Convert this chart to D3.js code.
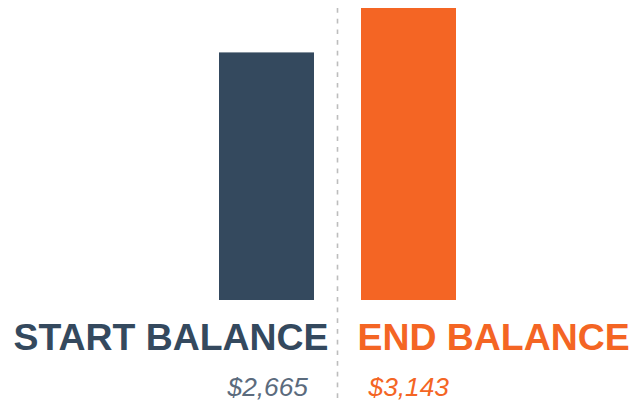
<!DOCTYPE html>
<html><head><meta charset="utf-8">
<script src="https://cdn.jsdelivr.net/npm/d3@7"></script>
<style>html,body{margin:0;padding:0;background:#fff;overflow:hidden}</style>
</head><body>
<svg id="chart" width="631" height="404"></svg>
<script>
const categories = ["START BALANCE", "END BALANCE"];
const values = [2665, 3143];
const valueLabels = ["$2,665", "$3,143"];
const colors = ["#34495e", "#f46524"];
const valueColors = ["#5b6b7d", "#f46524"];

const svg = d3.select("#chart");
const x = d3.scaleBand().domain(categories).range([219, 456]).paddingInner(47/142).paddingOuter(0);
const y = d3.scaleLinear().domain([0, d3.max(values)]).range([300, 8]);

svg.selectAll("rect.bar").data(categories).join("rect")
  .attr("class","bar")
  .attr("x", d => x(d))
  .attr("width", x.bandwidth())
  .attr("y", (d,i) => y(values[i]))
  .attr("height", (d,i) => y(0) - y(values[i]))
  .attr("fill", (d,i) => colors[i]);

const mid = (x(categories[0]) + x.bandwidth() + x(categories[1])) / 2;
svg.append("line")
  .attr("x1", mid).attr("x2", mid)
  .attr("y1", 8).attr("y2", 404)
  .attr("stroke", "#bdbdbd").attr("stroke-width", 1.6)
  .attr("stroke-dasharray", "4.7,6");

svg.selectAll("text.cat").data(categories).join("text")
  .attr("class","cat")
  .attr("x", (d,i) => i === 0 ? mid - 9 : mid + 20)
  .attr("y", 350)
  .attr("text-anchor", (d,i) => i === 0 ? "end" : "start")
  .attr("font-family", "'Liberation Sans', Arial, sans-serif")
  .attr("font-weight", "bold")
  .attr("font-size", 37.4)
  .attr("fill", (d,i) => colors[i])
  .text(d => d);

svg.selectAll("text.val").data(valueLabels).join("text")
  .attr("class","val")
  .attr("x", (d,i) => i === 0 ? mid - 29.5 : mid + 31)
  .attr("y", 396)
  .attr("text-anchor", (d,i) => i === 0 ? "end" : "start")
  .attr("font-family", "'Liberation Sans', Arial, sans-serif")
  .attr("font-style", "italic")
  .attr("font-size", 26.3)
  .attr("fill", (d,i) => valueColors[i])
  .text(d => d);
</script>
</body></html>
